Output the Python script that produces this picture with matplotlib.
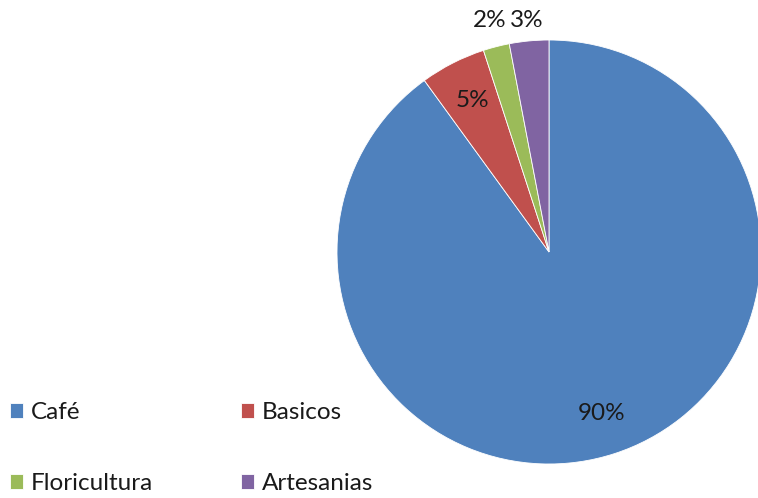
import numpy as np
import matplotlib
matplotlib.use("Agg")
from matplotlib import pyplot as plt

# data
categories = ['Café', 'Basicos', 'Floricultura', 'Artesanias']
values = [90, 5, 2, 3]
colors = ['#4F81BD', '#C0504D', '#9BBB59', '#8064A2']

plt.rcParams['font.family'] = ['Lato', 'DejaVu Sans']

fig = plt.figure(figsize=(7.58, 4.98), dpi=100)

# pie axes: centre (549,252) px, radius 212 px
W, H = 758.0, 498.0
cx, cy, r = 549.0, 252.0, 212.0
ax = fig.add_axes([(cx - r) / W, (H - cy - r) / H, 2 * r / W, 2 * r / H])

wedges, _ = ax.pie(values, colors=colors, startangle=90, counterclock=False,
                   radius=1.0, wedgeprops=dict(edgecolor='white', linewidth=0.6))
ax.set_xlim(-1, 1)
ax.set_ylim(-1, 1)
ax.set_aspect('equal')
ax.axis('off')

# percent labels: big slices inside, small ones above the pie
for w, v in zip(wedges, values):
    mid = np.deg2rad((w.theta1 + w.theta2) / 2.0)
    if v >= 5:
        x, y = 0.8 * np.cos(mid), 0.8 * np.sin(mid)
    else:
        x, y = 1.12 * np.cos(mid), 1.09
    ax.text(x, y, '%d%%' % v, ha='center', va='center', fontsize=17.5,
            color='#1a1a1a', clip_on=False)

# legend filled row by row (matplotlib fills columns first)
order = [0, 2, 1, 3]
leg = fig.legend([wedges[i] for i in order], [categories[i] for i in order],
                 ncol=2, loc='upper left', bbox_to_anchor=(0.0, 0.212),
                 frameon=False, fontsize=17.5, borderaxespad=0.0,
                 handlelength=0.55, handleheight=0.55, handletextpad=0.33,
                 labelspacing=2.05, columnspacing=3.6)
for t in leg.get_texts():
    t.set_color('#1a1a1a')

fig.savefig('out.png', dpi=100)
